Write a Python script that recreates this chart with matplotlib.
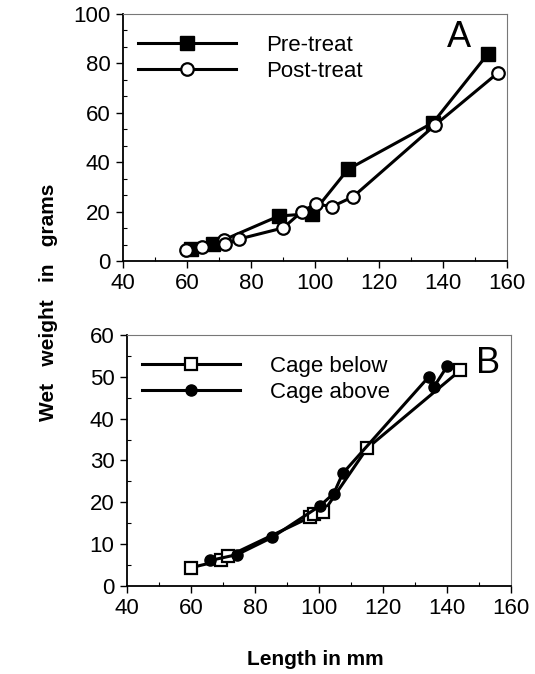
import matplotlib
matplotlib.use("Agg")
from matplotlib import pyplot as plt
from matplotlib.ticker import MultipleLocator, AutoMinorLocator

plt.rcParams['font.family'] = ['Liberation Sans', 'DejaVu Sans']

# panel A
pre_x = [61.1, 68.2, 88.7, 99.2, 110.3, 136.9, 154.0]
pre_y = [4.7, 6.7, 18.2, 19.2, 37.1, 56.0, 83.8]
post_x = [59.7, 64.6, 71.5, 72.0, 76.3, 90.1, 95.9, 100.2, 105.3, 111.9, 137.5, 157.2]
post_y = [4.5, 5.5, 8.5, 6.7, 8.9, 13.4, 20.0, 23.1, 22.0, 26.0, 55.0, 76.2]

# panel B
below_x = [60.1, 69.4, 71.6, 97.1, 98.4, 101.3, 115.0, 144.2]
below_y = [4.4, 6.1, 7.1, 16.4, 17.3, 17.6, 32.9, 51.6]
above_x = [66.0, 74.4, 85.3, 100.2, 104.6, 107.4, 134.3, 135.9, 140.1]
above_y = [6.1, 7.5, 11.6, 19.1, 22.1, 26.9, 50.0, 47.6, 52.6]

fs = 16
lw = 2.2

fig = plt.figure(figsize=(5.35, 6.74), dpi=100)
ax1 = fig.add_axes([0.2299, 0.6128, 0.7178, 0.3665])
ax2 = fig.add_axes([0.2374, 0.1306, 0.7178, 0.3724])


def style(ax, ymax, ystep, yminor):
    ax.set_xlim(40, 160)
    ax.set_ylim(0, ymax)
    ax.xaxis.set_major_locator(MultipleLocator(20))
    ax.xaxis.set_minor_locator(AutoMinorLocator(2))
    ax.yaxis.set_major_locator(MultipleLocator(ystep))
    ax.yaxis.set_minor_locator(AutoMinorLocator(yminor))
    ax.tick_params(which='major', direction='out', length=5, width=1, labelsize=fs, pad=4)
    ax.tick_params(which='minor', direction='in', length=3, width=0.8)
    ax.tick_params(top=False, right=False, which='both')
    for s in ['left', 'bottom']:
        ax.spines[s].set_linewidth(1.3)
    for s in ['top', 'right']:
        ax.spines[s].set_linewidth(0.8)
        ax.spines[s].set_color('#777777')


style(ax1, 100, 20, 3)
style(ax2, 60, 10, 2)

leg_kw = dict(loc='upper left', frameon=False, fontsize=fs, handlelength=4.4,
              handletextpad=1.35, labelspacing=0.2, borderaxespad=0.55,
              bbox_to_anchor=(-0.016, 1.0))

ax1.plot(pre_x, pre_y, color='black', lw=lw, marker='s', ms=10, mfc='black',
         mec='black', label='Pre-treat', zorder=3)
ax1.plot(post_x, post_y, color='black', lw=lw, marker='o', ms=9, mfc='white',
         mec='black', mew=1.6, label='Post-treat', zorder=4)
ax1.legend(**leg_kw)
ax1.text(0.875, 0.865, 'A', transform=ax1.transAxes, fontsize=26,
         ha='center', va='baseline')

ax2.plot(below_x, below_y, color='black', lw=lw, marker='s', ms=9, mfc='white',
         mec='black', mew=1.6, label='Cage below', zorder=3)
ax2.plot(above_x, above_y, color='black', lw=lw, marker='o', ms=8, mfc='black',
         mec='black', label='Cage above', zorder=4)
ax2.legend(**leg_kw)
ax2.text(0.94, 0.85, 'B', transform=ax2.transAxes, fontsize=26,
         ha='center', va='baseline')

fig.text(0.09, 0.552, 'Wet   weight   in   grams', rotation=90, fontsize=15,
         fontweight='bold', ha='center', va='center')
fig.text(0.59, 0.008, 'Length in mm', fontsize=15, fontweight='bold',
         ha='center', va='bottom')

fig.savefig('out.png', dpi=100)
